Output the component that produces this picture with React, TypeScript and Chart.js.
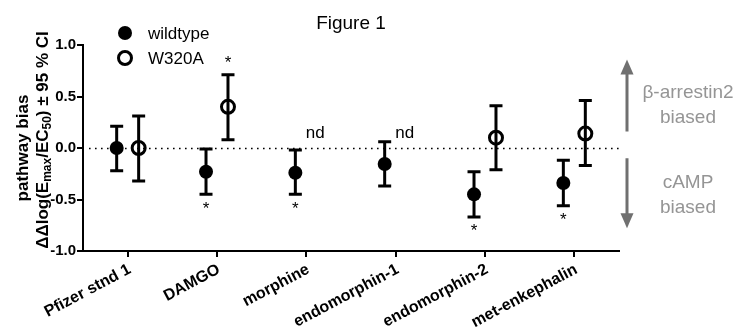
import React, { useEffect, useRef } from "react";
import { Chart, registerables } from "chart.js";

Chart.register(...registerables);

const categories = ["Pfizer stnd 1", "DAMGO", "morphine", "endomorphin-1", "endomorphin-2", "met-enkephalin"];
const wildtypeMean = [0, -0.23, -0.24, -0.155, -0.45, -0.34];
const wildtypeLo = [-0.22, -0.45, -0.45, -0.37, -0.67, -0.56];
const wildtypeHi = [0.21, -0.01, -0.02, 0.06, -0.23, -0.12];
const mutantMean: (number | null)[] = [0, 0.4, null, null, 0.1, 0.14];
const mutantLo: (number | null)[] = [-0.32, 0.08, null, null, -0.21, -0.17];
const mutantHi: (number | null)[] = [0.31, 0.71, null, null, 0.41, 0.46];
const wildtypeStar = [false, true, true, false, true, true];
const mutantStar = [false, true, false, false, false, false];
const mutantNd = [false, false, true, true, false, false];
const yTicks = [-1, -0.5, 0, 0.5, 1];

const FONT = "Arial, 'Liberation Sans', sans-serif";
const DODGE = 0.123;

export default function App() {
  const ref = useRef<HTMLCanvasElement | null>(null);
  useEffect(() => {
    if (!ref.current) return;
    const overlay = {
      id: "overlay",
      beforeDatasetsDraw(chart: any) {
        const ctx = chart.ctx;
        const xs = chart.scales.x;
        const ys = chart.scales.y;
        const area = chart.chartArea;
        ctx.save();
        ctx.strokeStyle = "#000";
        ctx.lineWidth = 1.6;
        ctx.setLineDash([1.6, 4.4]);
        const y0 = Math.round(ys.getPixelForValue(0)) + 0.5;
        ctx.beginPath();
        ctx.moveTo(area.left + 6, y0);
        ctx.lineTo(area.right, y0);
        ctx.stroke();
        ctx.restore();
        const drawBar = (xv: number, lo: number, hi: number) => {
          const px = xs.getPixelForValue(xv);
          const pl = ys.getPixelForValue(lo);
          const ph = ys.getPixelForValue(hi);
          ctx.save();
          ctx.strokeStyle = "#000";
          ctx.lineWidth = 3;
          ctx.beginPath();
          ctx.moveTo(px, pl);
          ctx.lineTo(px, ph);
          ctx.moveTo(px - 6.5, pl);
          ctx.lineTo(px + 6.5, pl);
          ctx.moveTo(px - 6.5, ph);
          ctx.lineTo(px + 6.5, ph);
          ctx.stroke();
          ctx.restore();
        };
        categories.forEach((_, i) => {
          drawBar(i - DODGE, wildtypeLo[i], wildtypeHi[i]);
          const lo = mutantLo[i];
          const hi = mutantHi[i];
          if (lo !== null && hi !== null) drawBar(i + DODGE, lo, hi);
        });
      },
      afterDraw(chart: any) {
        const ctx = chart.ctx;
        const xs = chart.scales.x;
        const ys = chart.scales.y;
        const area = chart.chartArea;
        ctx.save();
        ctx.fillStyle = "#000";
        // title
        ctx.font = `19px ${FONT}`;
        ctx.textAlign = "center";
        ctx.textBaseline = "middle";
        ctx.fillText("Figure 1", (area.left + area.right) / 2, 24);
        // legend
        ctx.beginPath();
        ctx.arc(125, 33, 7, 0, Math.PI * 2);
        ctx.fill();
        ctx.lineWidth = 3;
        ctx.strokeStyle = "#000";
        ctx.beginPath();
        ctx.arc(125, 58, 6.5, 0, Math.PI * 2);
        ctx.stroke();
        ctx.font = `17px ${FONT}`;
        ctx.textAlign = "left";
        ctx.fillText("wildtype", 148, 34);
        ctx.fillText("W320A", 148, 59);
        // stars and nd
        ctx.textAlign = "center";
        ctx.font = `17px ${FONT}`;
        categories.forEach((_, i) => {
          if (wildtypeStar[i]) {
            const px = xs.getPixelForValue(i - DODGE);
            const py = ys.getPixelForValue(wildtypeLo[i]);
            ctx.textBaseline = "top";
            ctx.fillText("*", px, py + 6);
          }
          const hi = mutantHi[i];
          if (mutantStar[i] && hi !== null) {
            const px = xs.getPixelForValue(i + DODGE);
            const py = ys.getPixelForValue(hi);
            ctx.textBaseline = "alphabetic";
            ctx.fillText("*", px, py - 7);
          }
          if (mutantNd[i]) {
            const px = xs.getPixelForValue(i + DODGE);
            ctx.textBaseline = "middle";
            ctx.fillText("nd", px - 2, ys.getPixelForValue(0.14));
          }
        });
        // right annotations
        const ax = 627;
        ctx.fillStyle = "#707070";
        ctx.strokeStyle = "#707070";
        ctx.lineWidth = 3;
        const upTip = ys.getPixelForValue(0.86);
        const upBase = ys.getPixelForValue(0.16);
        const dnTop = ys.getPixelForValue(-0.1);
        const dnTip = ys.getPixelForValue(-0.78);
        ctx.beginPath();
        ctx.moveTo(ax, upBase);
        ctx.lineTo(ax, upTip + 12);
        ctx.moveTo(ax, dnTop);
        ctx.lineTo(ax, dnTip - 12);
        ctx.stroke();
        ctx.beginPath();
        ctx.moveTo(ax, upTip);
        ctx.lineTo(ax - 6.5, upTip + 15);
        ctx.lineTo(ax + 6.5, upTip + 15);
        ctx.closePath();
        ctx.fill();
        ctx.beginPath();
        ctx.moveTo(ax, dnTip);
        ctx.lineTo(ax - 6.5, dnTip - 15);
        ctx.lineTo(ax + 6.5, dnTip - 15);
        ctx.closePath();
        ctx.fill();
        ctx.fillStyle = "#959595";
        ctx.font = `19px ${FONT}`;
        ctx.textAlign = "center";
        ctx.textBaseline = "middle";
        ctx.fillText("β-arrestin2", 688, 93);
        ctx.fillText("biased", 688, 118);
        ctx.fillText("cAMP", 688, 183);
        ctx.fillText("biased", 688, 208);
        // y axis title
        ctx.fillStyle = "#000";
        const cy = (area.top + area.bottom) / 2;
        ctx.save();
        ctx.translate(23, cy);
        ctx.rotate(-Math.PI / 2);
        ctx.font = `bold 17px ${FONT}`;
        ctx.textAlign = "center";
        ctx.textBaseline = "middle";
        ctx.fillText("pathway bias", 0, 0);
        ctx.restore();
        ctx.save();
        ctx.translate(43, cy - 8);
        ctx.rotate(-Math.PI / 2);
        ctx.textBaseline = "middle";
        ctx.textAlign = "left";
        const segs: [string, boolean][] = [
          ["ΔΔlog(E", false],
          ["max", true],
          ["/EC", false],
          ["50", true],
          [") ± 95 % CI", false],
        ];
        const big = `bold 17px ${FONT}`;
        const small = `bold 12px ${FONT}`;
        let total = 0;
        segs.forEach(([t, s]) => {
          ctx.font = s ? small : big;
          total += ctx.measureText(t).width;
        });
        let x = -total / 2;
        segs.forEach(([t, s]) => {
          ctx.font = s ? small : big;
          ctx.fillText(t, x, s ? 5 : 0);
          x += ctx.measureText(t).width;
        });
        ctx.restore();
        ctx.restore();
      },
    };

    const chart = new Chart(ref.current, {
      type: "scatter",
      data: {
        datasets: [
          {
            label: "wildtype",
            data: categories.map((_, i) => ({ x: i - DODGE, y: wildtypeMean[i] })),
            pointRadius: 7,
            pointBackgroundColor: "#000",
            pointBorderColor: "#000",
            pointBorderWidth: 0,
          },
          {
            label: "W320A",
            data: categories
              .map((_, i) => ({ x: i + DODGE, y: mutantMean[i] }))
              .filter((d) => d.y !== null) as any,
            pointRadius: 6.5,
            pointBackgroundColor: "rgba(0,0,0,0)",
            pointBorderColor: "#000",
            pointBorderWidth: 3,
          },
        ],
      },
      options: {
        animation: false,
        responsive: true,
        maintainAspectRatio: false,
        layout: { padding: { top: 45, right: 118, left: 0, bottom: 0 } },
        plugins: { legend: { display: false }, tooltip: { enabled: false }, title: { display: false } },
        scales: {
          x: {
            type: "linear",
            min: -0.5,
            max: 5.5,
            afterBuildTicks: (s: any) => {
              s.ticks = categories.map((_, i) => ({ value: i }));
            },
            afterFit: (s: any) => {
              s.height = 76;
            },
            ticks: {
              autoSkip: false,
              minRotation: 28,
              maxRotation: 28,
              padding: 3,
              labelOffset: 2,
              color: "#000",
              font: { family: FONT, size: 16, weight: "bold" },
              callback: (v: any) => categories[Math.round(Number(v))] ?? "",
            },
            grid: { display: true, drawOnChartArea: false, drawTicks: true, tickLength: 6, color: "#000", lineWidth: 2 },
            border: { display: true, color: "#000", width: 2 },
          },
          y: {
            type: "linear",
            min: -1,
            max: 1,
            afterBuildTicks: (s: any) => {
              s.ticks = yTicks.map((v) => ({ value: v }));
            },
            afterFit: (s: any) => {
              s.width = 83;
            },
            ticks: {
              padding: 1,
              color: "#000",
              font: { family: FONT, size: 15, weight: "bold" },
              callback: (v: any) => Number(v).toFixed(1),
            },
            grid: { display: true, drawOnChartArea: false, drawTicks: true, tickLength: 6, color: "#000", lineWidth: 2 },
            border: { display: true, color: "#000", width: 2 },
          },
        },
      } as any,
      plugins: [overlay],
    });
    return () => chart.destroy();
  }, []);

  return (
    <div style={{ position: "absolute", left: 0, top: 0, width: 737, height: 327, background: "#fff" }}>
      <canvas ref={ref} />
    </div>
  );
}
